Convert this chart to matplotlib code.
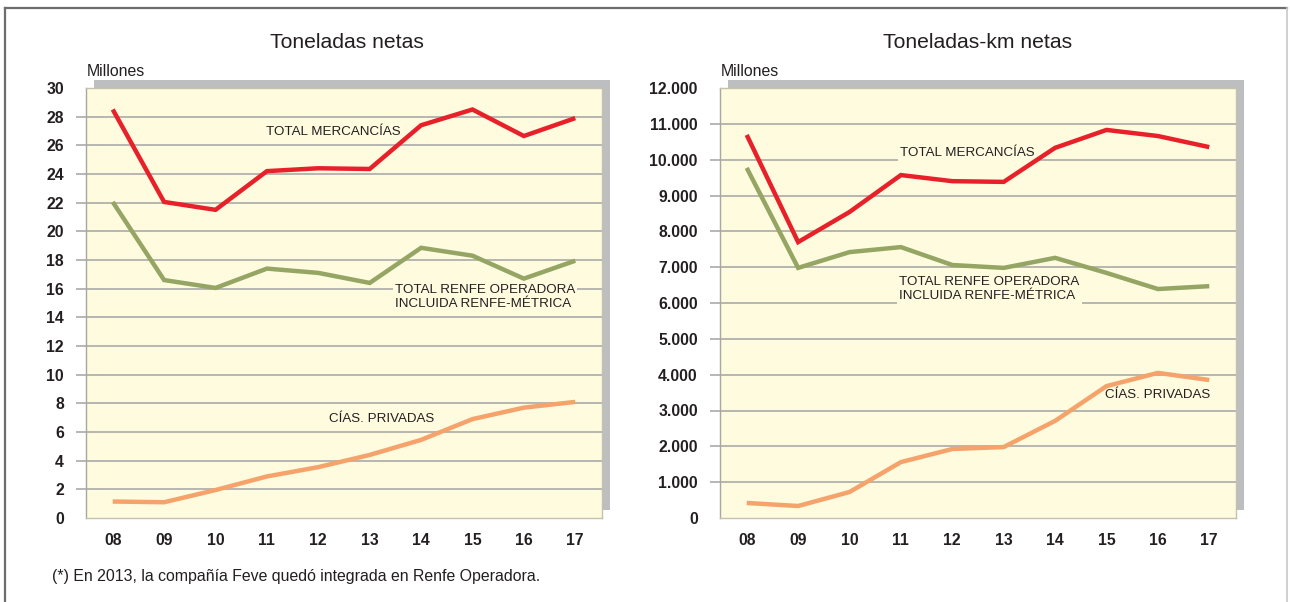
import matplotlib
matplotlib.use("Agg")
import matplotlib.pyplot as plt
from matplotlib.patches import Rectangle
from matplotlib.lines import Line2D

plt.rcParams['font.family'] = ['Liberation Sans', 'DejaVu Sans']

# datos
years = ["08", "09", "10", "11", "12", "13", "14", "15", "16", "17"]

ton_total = [28.5, 22.05, 21.5, 24.2, 24.4, 24.35, 27.4, 28.5, 26.65, 27.9]
ton_renfe = [22.05, 16.6, 16.05, 17.4, 17.1, 16.4, 18.85, 18.3, 16.7, 17.95]
ton_priv = [1.15, 1.1, 1.95, 2.9, 3.55, 4.4, 5.45, 6.9, 7.7, 8.1]

tkm_total = [10690, 7700, 8540, 9570, 9400, 9380, 10330, 10830, 10660, 10350]
tkm_renfe = [9770, 6980, 7420, 7560, 7060, 6980, 7260, 6840, 6390, 6470]
tkm_priv = [420, 335, 725, 1560, 1925, 1980, 2710, 3680, 4050, 3850]

ton_ticks = list(range(0, 31, 2))
tkm_ticks = list(range(0, 12001, 1000))
tkm_labels = ["0"] + [f"{v:,}".replace(",", ".") for v in tkm_ticks[1:]]

RED = "#E8202A"
GREEN = "#95A563"
ORANGE = "#F6A26B"
BG = "#FFFBDF"
SHADOW = "#BCBEC0"
GRID = "#A3A3A3"
TXT = "#231F20"

W, H = 1290, 602
fig = plt.figure(figsize=(W / 100, H / 100), dpi=100)


def px_axes(x0, x1, ytop, ybot):
    return [x0 / W, (H - ybot) / H, (x1 - x0) / W, (ybot - ytop) / H]


def panel(rect, title, title_x, series, ticks, ticklabels, labels, ylim):
    x0, x1, ytop, ybot = rect
    # sombra detrás del área de trazado
    fig.add_artist(Rectangle(((x0 + 8) / W, (H - ybot + 8) / H),
                             (x1 - x0) / W, (ybot - ytop) / H,
                             transform=fig.transFigure, facecolor=SHADOW,
                             edgecolor="none", zorder=-1))
    ax = fig.add_axes(px_axes(x0, x1, ytop, ybot))
    ax.set_facecolor(BG)
    for s in ax.spines.values():
        s.set_color("#C4C2AE")
        s.set_linewidth(1.0)
    ax.spines["left"].set_color("#A8A8A0")

    xs = range(len(years))
    for vals, col in series:
        ax.plot(xs, vals, color=col, lw=3.2, solid_capstyle="butt",
                solid_joinstyle="miter", zorder=3)

    ax.set_xlim(-0.52, len(years) - 0.48)
    ax.set_ylim(*ylim)
    ax.set_xticks(list(xs))
    ax.set_xticklabels(years)
    ax.yaxis.remove_overlapping_locs = False
    ax.set_yticks(ticks)
    ax.set_yticklabels(ticklabels)
    ax.set_yticks(ticks[1:-1], minor=True)
    ax.tick_params(axis="x", length=0, pad=11)
    ax.tick_params(axis="y", which="major", length=0, pad=16)
    ax.tick_params(axis="y", which="minor", length=7.5, width=1.1,
                   color=GRID, direction="out")
    ax.grid(axis="y", which="minor", color=GRID, lw=1.1)
    ax.set_axisbelow(True)
    for lab in ax.get_xticklabels() + ax.get_yticklabels():
        lab.set_fontweight("bold")
        lab.set_fontsize(11.3)
        lab.set_color(TXT)

    # etiquetas: el fondo tapa la rejilla pero no las líneas
    for txt, xi, yv in labels:
        ax.text(xi, yv, txt, fontsize=9.6, color=TXT, va="center",
                ha="left", linespacing=1.2, zorder=2,
                bbox=dict(facecolor=BG, edgecolor="none", pad=1.5))

    fig.text(title_x / W, 1 - 43 / H, title, fontsize=15.2, color=TXT,
             ha="center", va="center")
    fig.text((x0 + 1) / W, 1 - 71 / H, "Millones", fontsize=11.4,
             color=TXT, ha="left", va="center")
    return ax


panel((86, 602, 88, 518), "Toneladas netas", 347,
      [(ton_total, RED), (ton_renfe, GREEN), (ton_priv, ORANGE)],
      ton_ticks, [str(t) for t in ton_ticks],
      [("TOTAL MERCANCÍAS", 2.98, 26.9),
       ("TOTAL RENFE OPERADORA\nINCLUIDA RENFE-MÉTRICA", 5.49, 15.4),
       ("CÍAS. PRIVADAS", 4.2, 6.9)],
      (0, 30))

panel((720, 1236, 88, 518), "Toneladas-km netas", 978,
      [(tkm_total, RED), (tkm_renfe, GREEN), (tkm_priv, ORANGE)],
      tkm_ticks, tkm_labels,
      [("TOTAL MERCANCÍAS", 2.98, 10200),
       ("TOTAL RENFE OPERADORA\nINCLUIDA RENFE-MÉTRICA", 2.97, 6400),
       ("CÍAS. PRIVADAS", 6.98, 3420)],
      (0, 12000))

fig.text(52 / W, 1 - 577 / H,
         "(*) En 2013, la compañía Feve quedó integrada en Renfe Operadora.",
         fontsize=11.4, color=TXT, ha="left", va="center")

# marco exterior
fig.add_artist(Line2D([5 / W, 5 / W], [0, 1 - 8 / H], transform=fig.transFigure,
                      color="#6D6D6D", lw=1.6))
fig.add_artist(Line2D([5 / W, 1287 / W], [1 - 8 / H, 1 - 8 / H],
                      transform=fig.transFigure, color="#6D6D6D", lw=1.6))
fig.add_artist(Line2D([1287 / W, 1287 / W], [0, 1 - 8 / H],
                      transform=fig.transFigure, color="#C8C8C8", lw=1.2))

fig.savefig("out.png", dpi=100, facecolor="white")
